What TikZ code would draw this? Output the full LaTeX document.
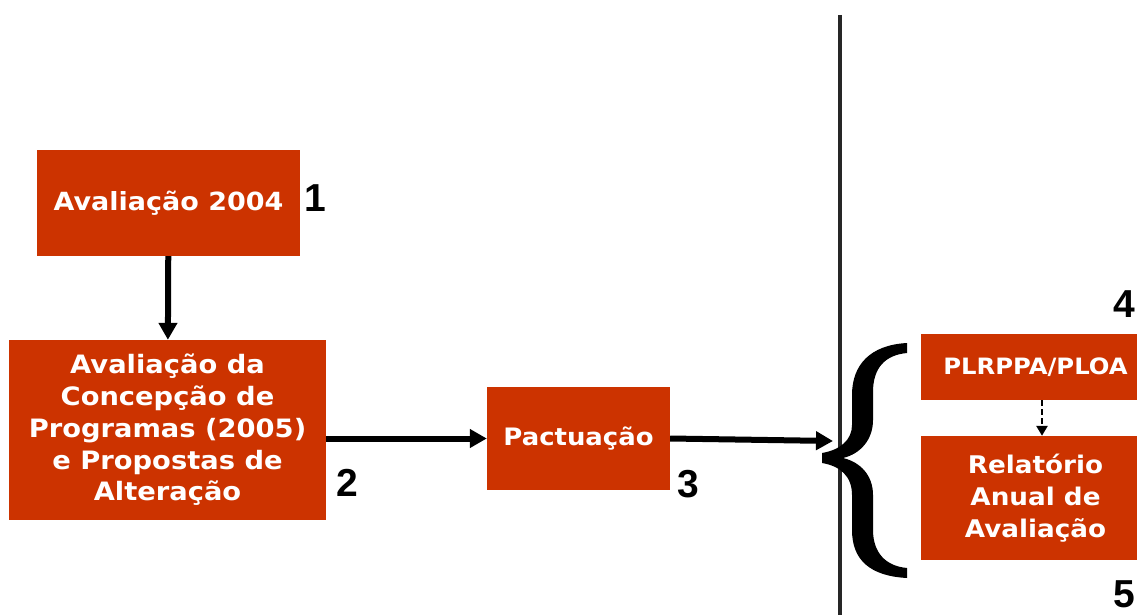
\documentclass[tikz,border=0pt]{standalone}
\usepackage{fontspec}
\setmainfont{DejaVu Sans}
\newfontfamily\bx{DejaVu Sans Bold}[FakeStretch=1.08]
\newfontfamily\numfont{Liberation Sans Bold}
\usetikzlibrary{arrows.meta}
\definecolor{boxred}{RGB}{204,51,0}
\begin{document}
\begin{tikzpicture}[x=1pt,y=-1pt,
  box/.style={fill=boxred, draw=none, inner sep=0pt, align=center, text=white},
  num/.style={font=\numfont\fontsize{39}{39}\selectfont, inner sep=0pt},
  arr/.style={line width=6pt, -{Triangle[length=17pt,width=18pt]}},
  darr/.style={line width=2.5pt, dash pattern=on 6pt off 3pt, -{Triangle[length=10pt,width=11pt]}}]
\useasboundingbox (0,0) rectangle (1137,615);
\clip (0,0) rectangle (1137,615);
% boxes
\node[box, minimum width=263pt, minimum height=106pt, font=\bx\fontsize{25}{31.7}\selectfont] (b1) at (168.5,203) {Avaliação 2004};
\node[box, minimum width=317pt, minimum height=180pt, font=\bx\fontsize{25.3}{31.7}\selectfont] (b2) at (167.5,430)
  {Avaliação da\\Concepção de\\Programas (2005)\\e Propostas de\\Alteração};
\node[box, minimum width=183pt, minimum height=103pt, font=\bx\fontsize{24}{30}\selectfont] (b3) at (578.5,438.5) {Pactuação};
\node[box, minimum width=229pt, minimum height=66pt, font=\bx\fontsize{22.5}{28}\selectfont] (b4) at (1035.5,367) {PLRPPA/PLOA};
\node[box, minimum width=229pt, minimum height=124pt, font=\bx\fontsize{24.3}{32}\selectfont] (b5) at (1035.5,498)
  {Relatório\\Anual de\\Avaliação};
% numbers
\node[num] (n1) at (315,198) {1};
\node[num] (n2) at (347,483) {2};
\node[num] (n3) at (688,484) {3};
\node[num] (n4) at (1124,304) {4};
\node[num] (n5) at (1124,594) {5};
% separator
\coordinate (vtop) at (840,15);
\coordinate (vbot) at (840,615);
\draw[line width=3.5pt, black!85] (vtop) -- (vbot);
% brace
\fill (907,343) .. controls (870,345) and (852,365) .. (852,395) -- (852,425)
  .. controls (852,440) and (840,450) .. (822,453) -- (822,463)
  .. controls (840,466) and (852,476) .. (852,495) -- (852,530)
  .. controls (852,560) and (870,576) .. (907,578) -- (907,568)
  .. controls (885,566) and (873,552) .. (873,530) -- (873,495)
  .. controls (873,475) and (860,462) .. (843,458)
  .. controls (860,454) and (873,440) .. (873,420) -- (873,392)
  .. controls (873,368) and (885,355) .. (907,353) -- cycle;
\coordinate (bt) at (833,441);
% connectors
\draw[arr] (b1) -- (b2);
\draw[arr] (b2.east |- b3.west) -- (b3.west);
\draw[arr] (b3.east) -- (bt);
\draw[darr] ([xshift=6.5pt]b4.south) -- ([xshift=6.5pt]b5.north);
\end{tikzpicture}
\end{document}
